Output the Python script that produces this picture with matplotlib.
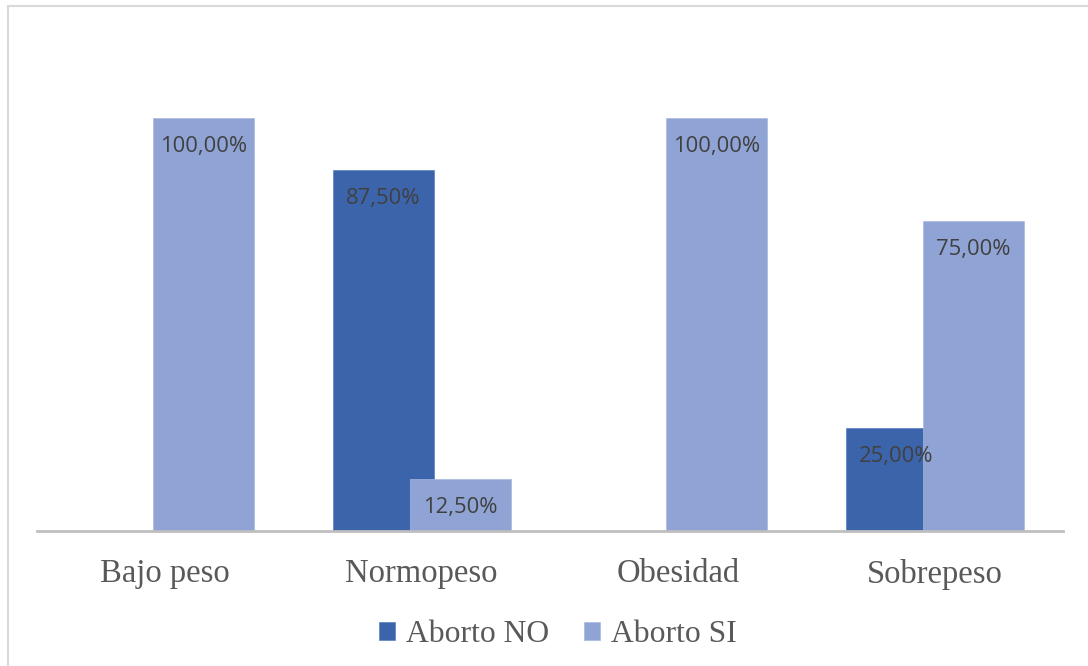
import numpy as np
import matplotlib
matplotlib.use("Agg")
import matplotlib.pyplot as plt
from matplotlib.patches import Rectangle

categories = ["Bajo peso", "Normopeso", "Obesidad", "Sobrepeso"]
aborto_no = [np.nan, 0.875, np.nan, 0.25]
aborto_si = [1.00, 0.125, 1.00, 0.75]
series_names = ["Aborto NO", "Aborto SI"]

W, H = 1088, 666
fig = plt.figure(figsize=(W / 100, H / 100), dpi=100)
ax = fig.add_axes([37 / W, (H - 531) / H, (1063 - 37) / W, (531 - 35.4) / H])

col_no = "#3C64AB"
col_si = "#8FA3D4"
x = np.arange(len(categories))
bw = 101 / 256
off = 38.5 / 256

b1 = ax.bar(x - off, aborto_no, bw, color=col_no, label=series_names[0], zorder=2,
            edgecolor="#5a7fc0", linewidth=0.5)
b2 = ax.bar(x + off, aborto_si, bw, color=col_si, label=series_names[1], zorder=3,
            edgecolor="#a8b8e0", linewidth=0.5)

def fmt(v):
    return f"{v*100:.2f}".replace(".", ",") + "%"

for bars, vals, z in ((b1, aborto_no, 4), (b2, aborto_si, 5)):
    for rect, v in zip(bars, vals):
        if v is None or np.isnan(v):
            continue
        ax.annotate(fmt(v), (rect.get_x() + rect.get_width() / 2, v),
                    xytext=(0, -28.5), textcoords="offset pixels",
                    ha="center", va="center", fontsize=15.8, family=["Open Sans", "DejaVu Sans"],
                    color="#404040", zorder=z + 10)

ax.set_xlim(-0.5, 3.5)
ax.set_ylim(0, 1.2)
ax.set_yticks([])
ax.set_xticks(x)
ax.set_xticklabels(categories, fontsize=23.5, family="Liberation Serif", color="#595959")
ax.tick_params(axis="x", length=0, pad=20)
for s in ("top", "right", "left"):
    ax.spines[s].set_visible(False)
ax.spines["bottom"].set_color("#BFBFBF")
ax.spines["bottom"].set_linewidth(2)
ax.spines["bottom"].set_zorder(6)

leg = fig.legend(handles=[b1, b2], labels=series_names, loc="center",
                 bbox_to_anchor=(558 / W, (H - 635) / H), ncol=2, frameon=False,
                 prop={"family": "Liberation Serif", "size": 22.8},
                 handlelength=0.5, handleheight=0.5, handletextpad=0.35, columnspacing=1.1)
for t in leg.get_texts():
    t.set_color("#595959")

fig.patches.append(Rectangle((8 / W, -0.1), 1.2, (H - 6) / H + 0.1, transform=fig.transFigure,
                             fill=False, edgecolor="#D9D9D9", linewidth=1.5))

fig.savefig("out.png", dpi=100)
